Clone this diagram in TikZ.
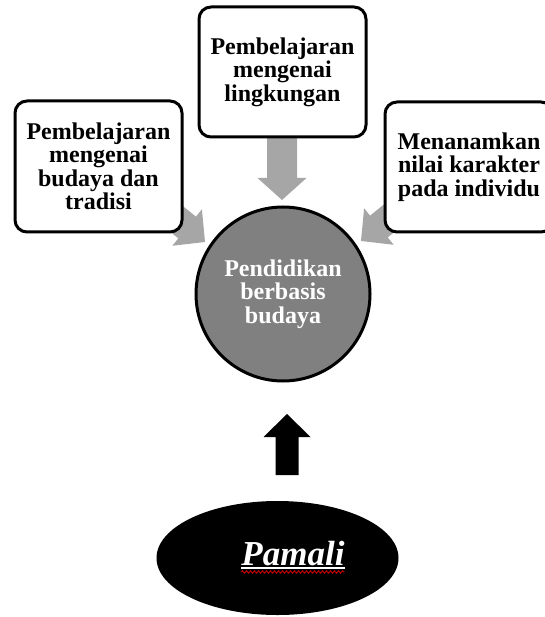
\documentclass[tikz,border=0pt]{standalone}
\usepackage{fontspec}
\setmainfont{Liberation Serif}
\usetikzlibrary{decorations.pathmorphing,shapes.geometric}
\definecolor{arrowgray}{HTML}{A6A6A6}
\definecolor{circgray}{HTML}{808080}
\newcommand\boxfont{\fontsize{24}{23.5}\selectfont\bfseries}
\tikzset{
  txtbox/.style={draw=black, line width=3pt, rounded corners=12pt, fill=white,
    align=center, font=\boxfont, inner sep=0pt},
}
\begin{document}
\begin{tikzpicture}[x=1pt,y=-1pt]
\useasboundingbox (0,0) rectangle (544,617);
% gray arrows (drawn first, boxes cover their tails)
\begin{scope}[shift={(282,200)}, rotate=-90]
  \fill[arrowgray] (0,0) -- (-22,24.5) -- (-22,15) -- (-66,15) -- (-66,-15) -- (-22,-15) -- (-22,-24.5) -- cycle;
\end{scope}
\begin{scope}[shift={(205,242)}, rotate=-39]
  \fill[arrowgray] (0,0) -- (-23,23.5) -- (-23,14) -- (-60,14) -- (-60,-14) -- (-23,-14) -- (-23,-23.5) -- cycle;
\end{scope}
\begin{scope}[shift={(361,241)}, rotate=219]
  \fill[arrowgray] (0,0) -- (-23,23.5) -- (-23,14) -- (-60,14) -- (-60,-14) -- (-23,-14) -- (-23,-23.5) -- cycle;
\end{scope}
% boxes
\node[txtbox, minimum width=167pt, minimum height=130pt] (top) at (282.5,72) {Pembelajaran\\mengenai\\lingkungan};
\node[txtbox, minimum width=167pt, minimum height=131pt] (left) at (98.5,166.5) {Pembelajaran\\mengenai\\budaya dan\\tradisi};
\node[txtbox, minimum width=168pt, minimum height=130pt] (right) at (469,167) {Menanamkan\\nilai karakter\\pada individu};
% central circle
\node[circle, draw=black, line width=3pt, fill=circgray, minimum size=174pt, inner sep=0pt,
  align=center, font=\boxfont, text=white] (center) at (283,294) {Pendidikan\\berbasis\\budaya};
% black arrow
\begin{scope}[shift={(287,414)}, rotate=90]
  \fill[black] (0,0) -- (-23,23.5) -- (-23,11.5) -- (-61,11.5) -- (-61,-11.5) -- (-23,-11.5) -- (-23,-23.5) -- cycle;
\end{scope}
% ellipse
\node[ellipse, fill=black, minimum width=242pt, minimum height=114pt, inner sep=0pt] (pamali) at (277.5,558) {};
\node[anchor=base, inner sep=0pt, text=white, font=\fontsize{35}{40}\selectfont\bfseries\itshape] (pam) at (293,565) {Pamali};
\draw[white, line width=1.3pt] ([yshift=-3pt]pam.base west) -- ([yshift=-3pt]pam.base east);
\draw[red!80!black, line width=0.9pt, decorate, decoration={snake, segment length=4pt, amplitude=1.2pt}]
  ([yshift=-7pt]pam.base west) -- ([yshift=-7pt]pam.base east);
\end{tikzpicture}
\end{document}
